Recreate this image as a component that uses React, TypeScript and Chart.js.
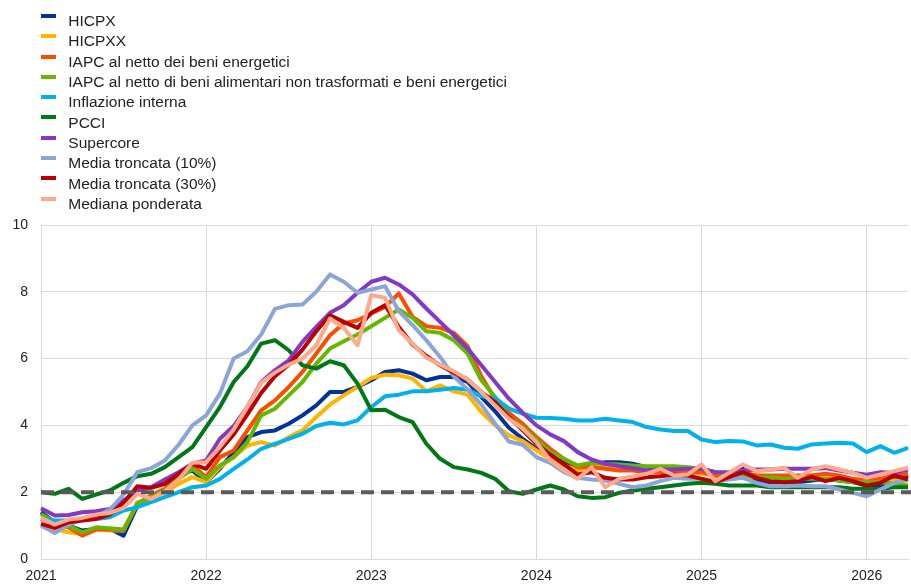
import React, { useEffect, useRef } from 'react';
import { Chart, registerables } from 'chart.js';

Chart.register(...registerables);

// Monthly categories, Jan 2021 – Apr 2026
const MONTHS = (
  '2021-01 2021-02 2021-03 2021-04 2021-05 2021-06 2021-07 2021-08 2021-09 2021-10 2021-11 2021-12 ' +
  '2022-01 2022-02 2022-03 2022-04 2022-05 2022-06 2022-07 2022-08 2022-09 2022-10 2022-11 2022-12 ' +
  '2023-01 2023-02 2023-03 2023-04 2023-05 2023-06 2023-07 2023-08 2023-09 2023-10 2023-11 2023-12 ' +
  '2024-01 2024-02 2024-03 2024-04 2024-05 2024-06 2024-07 2024-08 2024-09 2024-10 2024-11 2024-12 ' +
  '2025-01 2025-02 2025-03 2025-04 2025-05 2025-06 2025-07 2025-08 2025-09 2025-10 2025-11 2025-12 ' +
  '2026-01 2026-02 2026-03 2026-04'
).split(' ');

const HICPX = [
  1.4, 1.1, 1.0, 0.85, 0.9, 0.9, 0.7, 1.6, 1.9, 2.0, 2.5, 2.65,
  2.3, 2.7, 3.2, 3.65, 3.8, 3.85, 4.05, 4.3, 4.6, 5.0, 5.0, 5.15,
  5.35, 5.6, 5.65, 5.55, 5.35, 5.45, 5.45, 5.3, 4.85, 4.42, 3.93, 3.6,
  3.3, 3.1, 2.9, 2.75, 2.85, 2.9, 2.9, 2.85, 2.75, 2.75, 2.75, 2.7,
  2.7, 2.6, 2.45, 2.7, 2.35, 2.3, 2.3, 2.3, 2.35, 2.4, 2.35, 2.3,
  2.2, 2.2, 2.4, 2.5,
];
const HICPXX = [
  1.0, 0.9, 0.8, 0.75, 0.9, 0.85, 0.85, 1.7, 1.8, 2.0, 2.25, 2.45,
  2.3, 2.75, 3.05, 3.4, 3.5, 3.4, 3.65, 3.85, 4.25, 4.62, 4.9, 5.15,
  5.42, 5.52, 5.5, 5.4, 5.02, 5.2, 5.02, 4.92, 4.4, 4.0, 3.7, 3.53,
  3.25, 3.0, 2.8, 2.65, 2.75, 2.8, 2.75, 2.7, 2.65, 2.6, 2.6, 2.6,
  2.55, 2.5, 2.45, 2.5, 2.45, 2.45, 2.45, 2.45, 2.5, 2.5, 2.45, 2.35,
  2.25, 2.3, 2.35, 2.35,
];
const EX_ENERGY = [
  1.2, 1.05, 0.95, 0.7, 0.88, 0.88, 0.85, 1.65, 1.9, 2.1, 2.5, 2.8,
  2.45, 3.05, 3.25, 3.85, 4.45, 4.75, 5.15, 5.6, 6.15, 6.7, 7.05, 7.15,
  7.35, 7.55, 7.95, 7.25, 6.97, 6.92, 6.77, 6.37, 5.47, 4.78, 4.38, 4.05,
  3.65, 3.3, 3.0, 2.75, 2.75, 2.7, 2.65, 2.65, 2.6, 2.6, 2.65, 2.6,
  2.6, 2.5, 2.45, 2.6, 2.5, 2.5, 2.5, 2.5, 2.5, 2.55, 2.5, 2.4,
  2.35, 2.4, 2.5, 2.55,
];
const EX_FOOD_ENERGY = [
  1.35, 1.1, 1.0, 0.8, 0.95, 0.92, 0.88, 1.65, 1.85, 2.05, 2.4, 2.7,
  2.4, 2.8, 3.05, 3.5, 4.3, 4.5, 4.9, 5.3, 5.85, 6.3, 6.52, 6.72,
  6.97, 7.22, 7.47, 7.22, 6.82, 6.77, 6.55, 6.15, 5.35, 4.85, 4.25, 3.95,
  3.58, 3.2, 3.0, 2.8, 2.88, 2.85, 2.83, 2.8, 2.78, 2.78, 2.78, 2.75,
  2.7, 2.6, 2.5, 2.5, 2.45, 2.45, 2.4, 2.4, 2.4, 2.4, 2.35, 2.3,
  2.3, 2.3, 2.25, 2.2,
];
const DOMESTIC = [
  1.2, 1.15, 1.15, 1.2, 1.2, 1.25, 1.45, 1.55, 1.7, 1.85, 2.0, 2.15,
  2.2, 2.4, 2.7, 2.98, 3.3, 3.45, 3.6, 3.75, 3.98, 4.08, 4.03, 4.15,
  4.55, 4.87, 4.92, 5.02, 5.02, 5.07, 5.12, 5.07, 4.87, 4.82, 4.5, 4.35,
  4.23, 4.22, 4.2, 4.15, 4.15, 4.2, 4.15, 4.1, 3.95, 3.88, 3.83, 3.83,
  3.58, 3.5, 3.53, 3.52, 3.4, 3.43, 3.33, 3.3, 3.43, 3.46, 3.48, 3.46,
  3.2, 3.38, 3.18, 3.33,
];
const PCCI = [
  2.0, 1.95, 2.1, 1.8, 1.93, 2.05, 2.28, 2.48, 2.55, 2.75, 3.05, 3.35,
  3.95, 4.55, 5.3, 5.77, 6.45, 6.55, 6.25, 5.8, 5.7, 5.92, 5.8, 5.25,
  4.45, 4.47, 4.25, 4.1, 3.45, 3.0, 2.75, 2.68, 2.58, 2.4, 2.03, 1.95,
  2.08, 2.2, 2.08, 1.88, 1.83, 1.85, 1.98, 2.05, 2.1, 2.15, 2.2, 2.25,
  2.28, 2.25, 2.2, 2.2, 2.2, 2.15, 2.15, 2.15, 2.15, 2.15, 2.15, 2.1,
  2.1, 2.1, 2.15, 2.15,
];
const SUPERCORE = [
  1.52, 1.3, 1.32, 1.4, 1.43, 1.5, 1.75, 2.05, 2.15, 2.38, 2.6, 2.85,
  2.95, 3.6, 3.98, 4.55, 5.3, 5.65, 5.95, 6.5, 6.95, 7.37, 7.6, 7.97,
  8.3, 8.42, 8.22, 7.92, 7.5, 7.1, 6.7, 6.3, 5.8, 5.3, 4.8, 4.38,
  4.0, 3.73, 3.53, 3.2, 2.98, 2.85, 2.78, 2.72, 2.65, 2.68, 2.68, 2.7,
  2.7, 2.6, 2.6, 2.65, 2.68, 2.68, 2.7, 2.7, 2.7, 2.72, 2.65, 2.58,
  2.52, 2.6, 2.58, 2.68,
];
const TRIM10 = [
  1.0, 0.78, 1.03, 1.18, 1.28, 1.48, 1.93, 2.6, 2.72, 2.95, 3.42, 4.0,
  4.3, 4.95, 6.0, 6.22, 6.72, 7.49, 7.6, 7.62, 8.0, 8.52, 8.3, 7.97,
  8.07, 8.17, 7.42, 7.0, 6.55, 6.05, 5.47, 5.07, 4.62, 4.05, 3.52, 3.42,
  3.05, 2.88, 2.6, 2.43, 2.38, 2.35, 2.25, 2.15, 2.2, 2.33, 2.43, 2.4,
  2.4, 2.33, 2.38, 2.43, 2.28, 2.18, 2.18, 2.2, 2.18, 2.18, 2.08, 1.98,
  1.88, 2.08, 2.28, 2.38,
];
const TRIM30 = [
  1.05, 0.93, 1.1, 1.15, 1.2, 1.33, 1.68, 2.18, 2.13, 2.25, 2.55, 2.85,
  2.7, 3.25, 3.73, 4.33, 4.97, 5.47, 5.82, 6.27, 6.82, 7.3, 7.1, 6.92,
  7.37, 7.6, 6.95, 6.42, 6.08, 5.8, 5.58, 5.37, 5.0, 4.7, 4.25, 3.85,
  3.45, 3.13, 2.83, 2.53, 2.6, 2.43, 2.38, 2.38, 2.45, 2.48, 2.53, 2.5,
  2.4, 2.3, 2.45, 2.6, 2.43, 2.33, 2.3, 2.33, 2.46, 2.33, 2.43, 2.33,
  2.2, 2.28, 2.5, 2.38,
];
const WMEDIAN = [
  1.23, 1.03, 1.18, 1.23, 1.33, 1.38, 1.53, 1.95, 1.8, 2.03, 2.38, 2.88,
  2.9, 3.35, 3.88, 4.57, 5.28, 5.58, 5.82, 6.0, 6.4, 7.2, 6.92, 6.4,
  7.9, 7.82, 6.85, 6.45, 6.03, 5.82, 5.62, 5.37, 5.0, 4.6, 4.2, 3.9,
  3.5, 2.95, 2.65, 2.4, 2.75, 2.15, 2.4, 2.47, 2.55, 2.7, 2.5, 2.53,
  2.83, 2.33, 2.58, 2.83, 2.63, 2.68, 2.73, 2.43, 2.68, 2.78, 2.68, 2.58,
  2.43, 2.53, 2.63, 2.73,
];

const TARGET = 2;
const Y_MIN = 0;
const Y_MAX = 10;
const Y_STEP = 2;

const SERIES = [
  { label: 'HICPX', color: '#003299', data: HICPX },
  { label: 'HICPXX', color: '#FFB400', data: HICPXX },
  { label: 'IAPC al netto dei beni energetici', color: '#FF4B00', data: EX_ENERGY },
  { label: 'IAPC al netto di beni alimentari non trasformati e beni energetici', color: '#65B800', data: EX_FOOD_ENERGY },
  { label: 'Inflazione interna', color: '#00B1EA', data: DOMESTIC },
  { label: 'PCCI', color: '#007816', data: PCCI },
  { label: 'Supercore', color: '#8139C6', data: SUPERCORE },
  { label: 'Media troncata (10%)', color: '#8CA5D9', data: TRIM10 },
  { label: 'Media troncata (30%)', color: '#B80000', data: TRIM30 },
  { label: 'Mediana ponderata', color: '#FFA98C', data: WMEDIAN },
];

const FONT = '"Liberation Sans", Arial, Helvetica, sans-serif';
const GRID = '#D9D9D9';

const targetLine = {
  id: 'targetLine',
  afterDatasetsDraw(chart: any) {
    const { ctx, chartArea, scales } = chart;
    const y = scales.y.getPixelForValue(TARGET);
    ctx.save();
    ctx.strokeStyle = '#5A5A5A';
    ctx.lineWidth = 4;
    ctx.setLineDash([13, 7]);
    ctx.beginPath();
    ctx.moveTo(chartArea.left, y);
    ctx.lineTo(chartArea.right + 3, y);
    ctx.stroke();
    ctx.restore();
  },
};

export default function App() {
  const ref = useRef<HTMLCanvasElement>(null);

  useEffect(() => {
    if (!ref.current) return;
    const n = SERIES.length;
    const chart = new Chart(ref.current, {
      type: 'line',
      data: {
        labels: MONTHS,
        datasets: SERIES.map((s, i) => ({
          label: s.label,
          data: s.data,
          borderColor: s.color,
          backgroundColor: s.color,
          borderWidth: 4,
          pointRadius: 0,
          tension: 0,
          fill: false,
          borderJoinStyle: 'round' as const,
          order: n - i,
        })),
      },
      options: {
        animation: false,
        responsive: false,
        maintainAspectRatio: false,
        layout: { padding: { top: 225, right: 0, left: 0, bottom: 0 } },
        plugins: { legend: { display: false }, tooltip: { enabled: false } },
        scales: {
          x: {
            type: 'category',
            grid: {
              drawTicks: false,
              color: (c: any) => (MONTHS[c.index] && MONTHS[c.index].endsWith('-01') ? GRID : 'rgba(0,0,0,0)'),
              lineWidth: 1,
            },
            border: { color: GRID },
            ticks: {
              autoSkip: false,
              maxRotation: 0,
              padding: 9,
              color: '#222',
              font: { family: FONT, size: 14 },
              callback: (_v: any, i: number) => (MONTHS[i].endsWith('-01') ? MONTHS[i].slice(0, 4) : ''),
            },
            afterFit: (scale: any) => {
              scale.height = 26;
              scale.paddingRight = 3;
              scale.paddingLeft = 0;
            },
          },
          y: {
            min: Y_MIN,
            max: Y_MAX,
            grid: { drawTicks: false, color: GRID },
            border: { color: GRID },
            ticks: {
              stepSize: Y_STEP,
              padding: 13,
              color: '#222',
              font: { family: FONT, size: 14 },
            },
            afterFit: (scale: any) => {
              scale.width = 41;
            },
          },
        },
      },
      plugins: [targetLine],
    });
    return () => chart.destroy();
  }, []);

  return (
    <div style={{ position: 'absolute', left: 0, top: 0, width: 911, height: 585, background: '#fff' }}>
      <canvas ref={ref} width={911} height={585} style={{ position: 'absolute', left: 0, top: 0 }} />
      <div
        style={{
          position: 'absolute',
          left: 0,
          top: 11.2,
          fontFamily: FONT,
          fontSize: 15.5,
          lineHeight: '20.3px',
          color: '#222',
        }}
      >
        {SERIES.map((s) => (
          <div key={s.label} style={{ position: 'relative', height: 20.3, whiteSpace: 'nowrap' }}>
            <span
              style={{
                position: 'absolute',
                left: 41,
                top: 2.8,
                width: 15,
                height: 4,
                background: s.color,
              }}
            />
            <span style={{ position: 'absolute', left: 68.3, top: 0 }}>{s.label}</span>
          </div>
        ))}
      </div>
    </div>
  );
}
